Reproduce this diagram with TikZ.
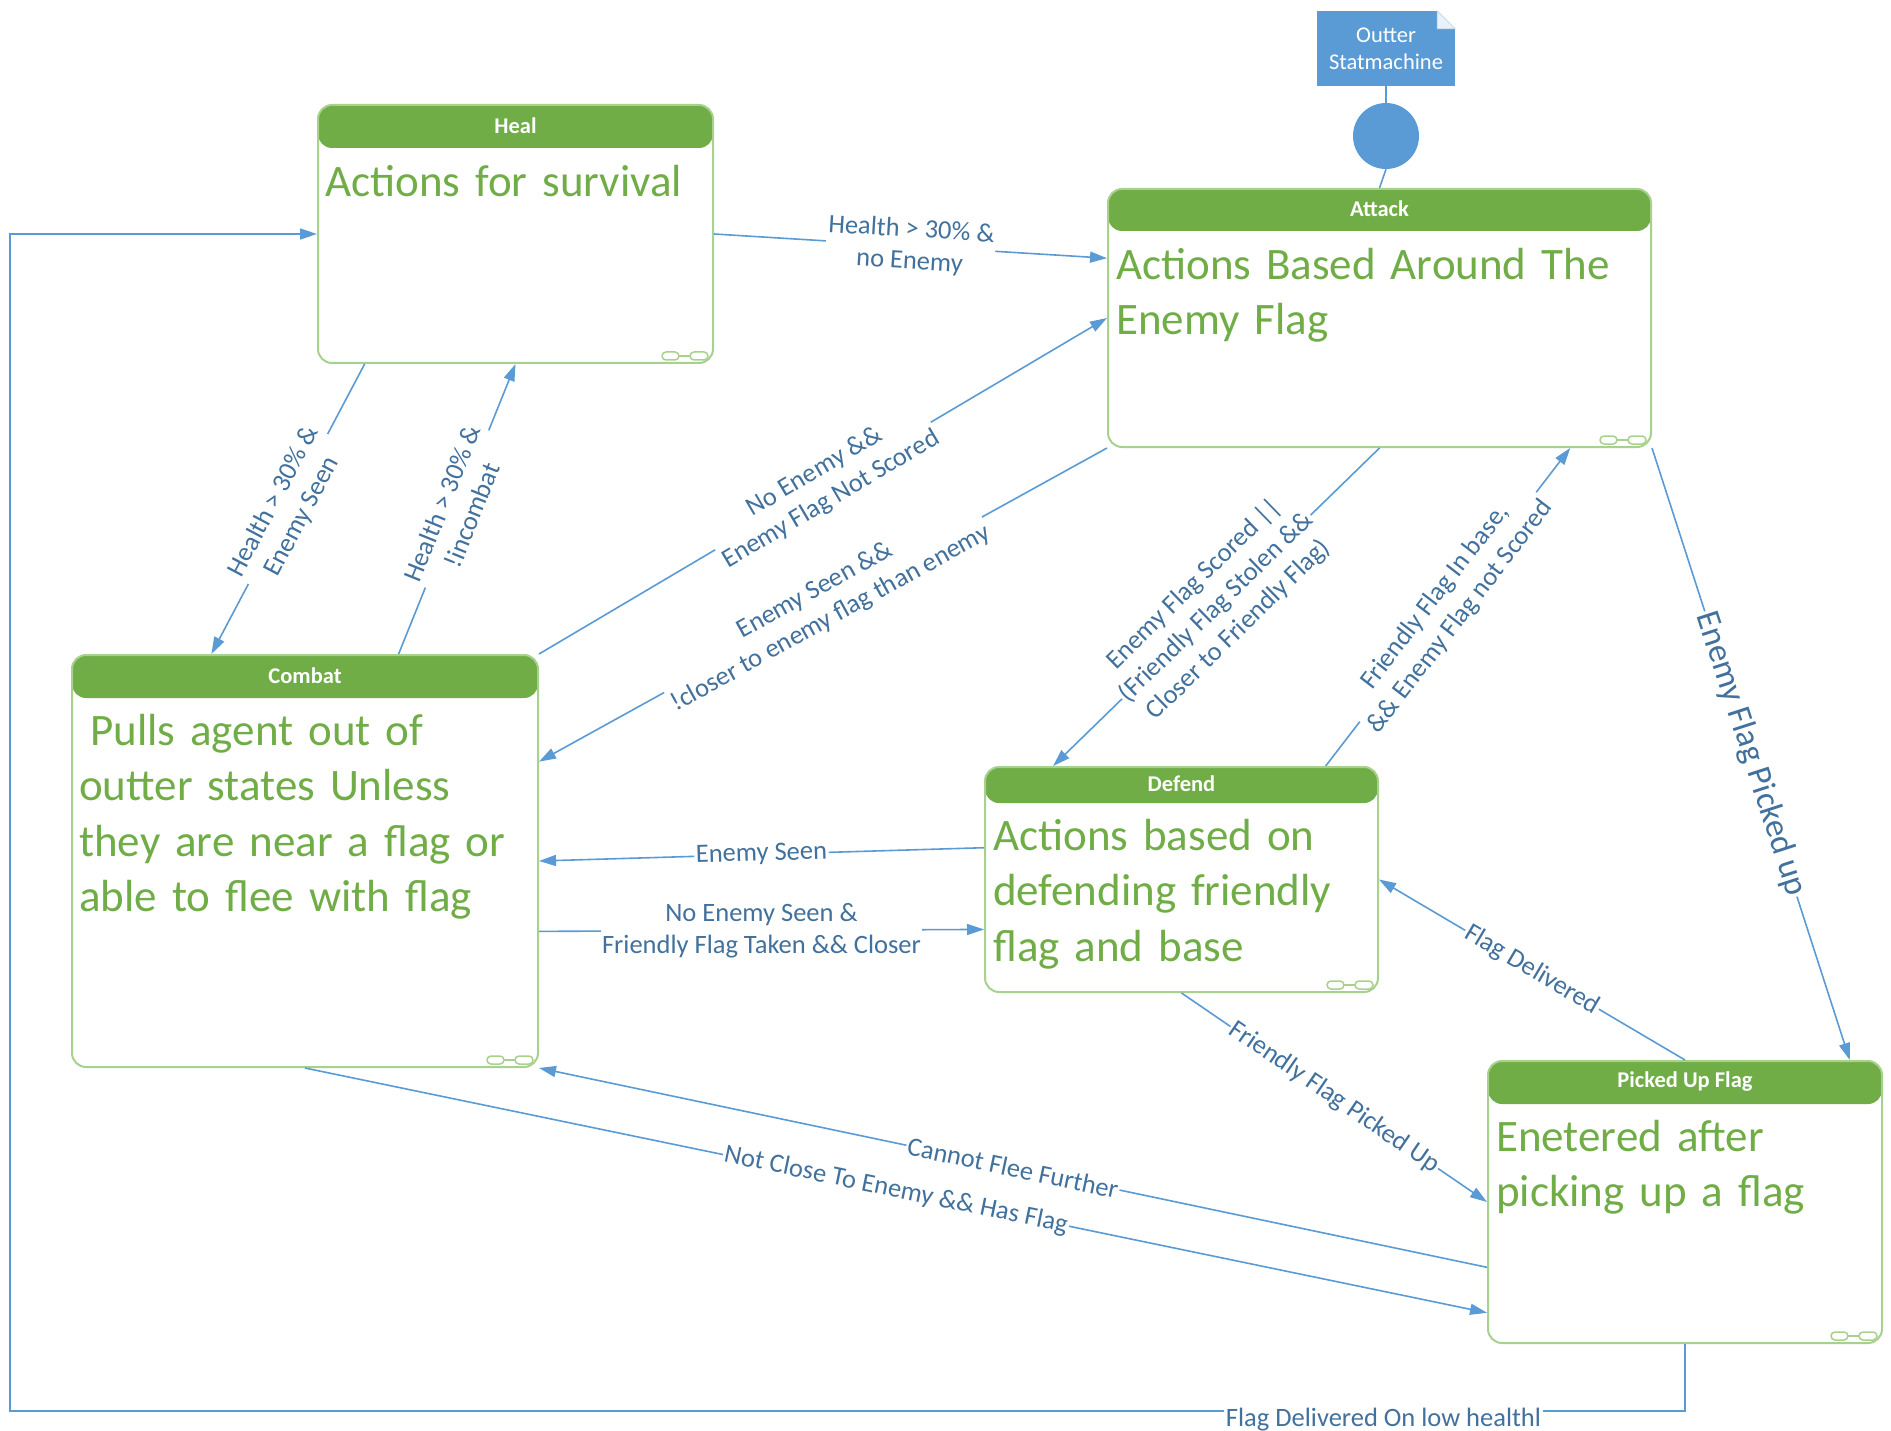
\documentclass[tikz,border=0pt]{standalone}
\usepackage{fontspec}
\setmainfont{Carlito}
\usetikzlibrary{arrows.meta,calc}

\definecolor{stategreen}{HTML}{70AD47}
\definecolor{stateedge}{HTML}{A9D18E}
\definecolor{wire}{HTML}{5B9BD5}
\definecolor{wiretext}{HTML}{41719C}
\definecolor{foldblue}{HTML}{EAF1FA}

\tikzset{
  statebox/.style={rectangle, draw=stateedge, line width=2pt, rounded corners=14pt,
    fill=white, anchor=north west, inner sep=0pt,
    path picture={\fill[stategreen] (path picture bounding box.north west)
      rectangle ([yshift=-#1]path picture bounding box.north east);}},
  statetitle/.style={font=\fontsize{22.5}{27}\selectfont\bfseries, text=white, inner sep=0pt},
  statetext/.style={font=\fontsize{45}{55.5}\selectfont, text=stategreen, anchor=north west,
    inner sep=0pt, text width=640pt, align=left},
  wire/.style={draw=wire, line width=1.6pt},
  arrowed/.style={wire, -{Triangle[length=17pt,width=11pt]}},
  lbl/.style={font=\fontsize{26.5}{32}\selectfont, text=wiretext, fill=white,
    inner sep=1.5pt, align=center},
  biglbl/.style={lbl, font=\fontsize{34}{40}\selectfont},
  notebox/.style={rectangle, fill=wire, text=white, minimum width=138pt, minimum height=75pt,
    inner sep=0pt, align=center, font=\fontsize{22.5}{27}\selectfont},
  initdot/.style={circle, fill=wire, minimum size=66pt, inner sep=0pt},
  linkicon/.pic={
    \draw[stateedge, line width=1.5pt, rounded corners=4pt] (-52,-12) rectangle (-35,-4);
    \draw[stateedge, line width=1.5pt] (-35,-8) -- (-24,-8);
    \draw[stateedge, line width=1.5pt, rounded corners=4pt] (-24,-12) rectangle (-6,-4);
  }
}

\begin{document}
\begin{tikzpicture}[x=1pt, y=-1pt]
\useasboundingbox (0,0) rectangle (1891,1431);
\fill[white] (0,0) rectangle (1891,1431);

% ---- states ----
\node[statebox=43pt, minimum width=395pt, minimum height=258pt] (heal) at (317,104) {};
\node[statetitle] at ($(heal.north)+(0,21.5)$) {Heal};
\node[statetext] at ($(heal.north west)+(8,54)$) {\rule{0pt}{38pt}Actions for survival};
\pic at (heal.south east) {linkicon};

\node[statebox=42pt, minimum width=543pt, minimum height=258pt] (attack) at (1107,188) {};
\node[statetitle] at ($(attack.north)+(0,21)$) {Attack};
\node[statetext] at ($(attack.north west)+(9,53)$) {\rule{0pt}{38pt}Actions Based Around The\\Enemy Flag};
\pic at (attack.south east) {linkicon};

\node[statebox=43pt, minimum width=466pt, minimum height=412pt] (combat) at (71,654) {};
\node[statetitle] at ($(combat.north)+(0,21.5)$) {Combat};
\node[statetext] at ($(combat.north west)+(8,53)$) {\rule{0pt}{38pt}\hspace*{11pt}Pulls agent out of\\outter states Unless\\they are near a flag or\\able to flee with flag};
\pic at (combat.south east) {linkicon};

\node[statebox=36pt, minimum width=393pt, minimum height=225pt] (defend) at (984,766) {};
\node[statetitle] at ($(defend.north)+(0,18)$) {Defend};
\node[statetext] at ($(defend.north west)+(9,46)$) {\rule{0pt}{38pt}Actions based on\\defending friendly\\flag and base};
\pic at (defend.south east) {linkicon};

\node[statebox=43pt, minimum width=394pt, minimum height=282pt] (picked) at (1487,1060) {};
\node[statetitle] at ($(picked.north)+(0,21.5)$) {Picked Up Flag};
\node[statetext] at ($(picked.north west)+(9,53)$) {\rule{0pt}{38pt}Enetered after\\picking up a flag};
\pic at (picked.south east) {linkicon};

% ---- entry from the outer state machine ----
\node[notebox] (outer) at (1386,48.5) {Outter\\Statmachine};
\fill[white] (outer.north east) -- ++(-18,0) -- ++(18,18) -- cycle;
\filldraw[fill=foldblue, draw=wire!40, line width=0.8pt] ($(outer.north east)+(-18,0)$) -- ++(0,18) -- ++(18,0) -- cycle;
\node[initdot] (init) at (1386,136) {};
\draw[wire] (outer.south) -- (init.north);
\draw[wire] (init.south) -- (attack.north);

% ---- transitions ----
\draw[arrowed] (heal.east) -- node[lbl,sloped]{Health > 30\% \&\\no Enemy}
  ($(attack.north west)!0.27!(attack.south west)$);
\draw[arrowed] ($(heal.south west)!0.12!(heal.south east)$) -- node[lbl,sloped]{Health > 30\% \&\\Enemy Seen}
  ($(combat.north west)!0.30!(combat.north east)$);
\draw[arrowed] ($(combat.north west)!0.70!(combat.north east)$) -- node[lbl,sloped]{Health > 30\% \&\\!incombat}
  (heal.south);
\draw[arrowed] (combat.north east) -- node[lbl,sloped]{No Enemy \&\&\\Enemy Flag Not Scored}
  (attack.west);
\draw[arrowed] (attack.south west) -- node[lbl,sloped]{Enemy Seen \&\&\\!closer to enemy flag than enemy}
  ($(combat.north east)!0.26!(combat.south east)$);
\draw[arrowed] (attack.south) -- node[lbl,sloped]{Enemy Flag Scored ||\\(Friendly Flag Stolen \&\&\\Closer to Friendly Flag)}
  ($(defend.north west)!0.175!(defend.north east)$);
\draw[arrowed] ($(defend.north west)!0.865!(defend.north east)$) -- node[lbl,sloped]{Friendly Flag In base,\\\&\& Enemy Flag not Scored}
  ($(attack.south west)!0.85!(attack.south east)$);
\draw[arrowed] ($(defend.north west)!0.36!(defend.south west)$) -- node[lbl,sloped]{Enemy Seen}
  (combat.east);
\draw[arrowed] ($(combat.north east)!0.67!(combat.south east)$) -- node[lbl]{No Enemy Seen \&\\Friendly Flag Taken \&\& Closer}
  ($(defend.north west)!0.72!(defend.south west)$);
\draw[arrowed] (attack.south east) -- node[biglbl,sloped]{Enemy Flag Picked up}
  ($(picked.north west)!0.916!(picked.north east)$);
\draw[arrowed] (picked.north) -- node[lbl,sloped]{Flag Delivered}
  (defend.east);
\draw[arrowed] (defend.south) -- node[lbl,sloped]{Friendly Flag Picked Up}
  (picked.west);
\draw[arrowed] ($(picked.north west)!0.73!(picked.south west)$) -- node[lbl,sloped]{Cannot Flee Further}
  (combat.south east);
\draw[arrowed] (combat.south) -- node[lbl,sloped]{Not Close To Enemy \&\& Has Flag}
  ($(picked.north west)!0.89!(picked.south west)$);

\coordinate (lowcorner) at (10,1411);
\draw[arrowed] (picked.south) |- node[lbl, pos=0.59, yshift=-9pt]{Flag Delivered On low healthl} (lowcorner) |- (heal.west);
\end{tikzpicture}
\end{document}
